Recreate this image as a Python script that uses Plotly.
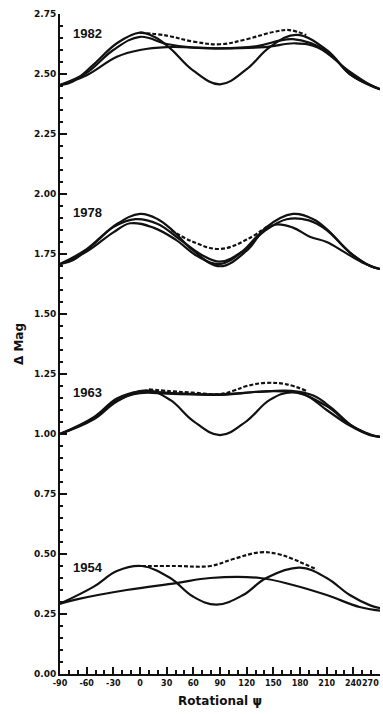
import plotly.graph_objects as go

# ---------------- data ----------------
years = ["1982", "1978", "1963", "1954"]
year_label_y = [2.67, 1.922, 1.172, 0.443]
year_label_x = -78

# 1982
x82_a = [-90, -75, -52, -26, 0, 17, 34, 60, 90, 120, 146, 176, 210, 236, 259, 270]
y82_a = [2.454, 2.47, 2.54, 2.628, 2.672, 2.653, 2.607, 2.514, 2.457, 2.52, 2.612, 2.663, 2.60, 2.50, 2.454, 2.437]
x82_b = [-90, -60, -26, 0, 30, 90, 140, 175, 200, 236, 259, 270]
y82_b = [2.454, 2.495, 2.572, 2.60, 2.612, 2.607, 2.612, 2.628, 2.61, 2.51, 2.455, 2.437]
x82_c = [-90, -60, -30, 0, 30, 60, 90, 130, 172, 210, 236, 259, 270]
y82_c = [2.454, 2.505, 2.60, 2.655, 2.625, 2.61, 2.607, 2.615, 2.645, 2.595, 2.50, 2.452, 2.437]
x82_d = [0, 30, 60, 90, 120, 150, 168, 187]
y82_d = [2.672, 2.66, 2.635, 2.624, 2.645, 2.675, 2.683, 2.662]

# 1978
x78_a = [-90, -75, -52, -26, 0, 20, 37, 60, 90, 120, 142, 172, 195, 210, 236, 259, 270]
y78_a = [1.708, 1.725, 1.792, 1.875, 1.917, 1.895, 1.847, 1.764, 1.699, 1.764, 1.861, 1.917, 1.895, 1.854, 1.757, 1.70, 1.6875]
x78_b = [-90, -60, -30, -5, 20, 45, 70, 90, 115, 140, 165, 190, 210, 236, 259, 270]
y78_b = [1.708, 1.77, 1.862, 1.895, 1.875, 1.81, 1.745, 1.718, 1.76, 1.845, 1.895, 1.89, 1.85, 1.756, 1.70, 1.6875]
x78_c = [-90, -60, -30, -11, 15, 40, 65, 90, 115, 135, 152, 172, 191, 210, 229, 250, 270]
y78_c = [1.708, 1.76, 1.84, 1.878, 1.86, 1.81, 1.74, 1.708, 1.76, 1.835, 1.872, 1.86, 1.822, 1.80, 1.76, 1.715, 1.6875]
x78_d = [35, 60, 90, 120, 145]
y78_d = [1.85, 1.80, 1.771, 1.81, 1.87]

# 1963
x63_a = [-90, -52, -26, 7, 34, 60, 90, 120, 146, 172, 210, 236, 259, 270]
y63_a = [1.00, 1.061, 1.135, 1.182, 1.142, 1.054, 0.995, 1.054, 1.142, 1.173, 1.116, 1.04, 0.997, 0.988]
x63_b = [-90, -52, -26, 0, 30, 60, 90, 110, 130, 160, 185, 210, 236, 259, 270]
y63_b = [1.00, 1.065, 1.14, 1.17, 1.168, 1.165, 1.163, 1.168, 1.176, 1.178, 1.165, 1.10, 1.035, 0.995, 0.988]
x63_c = [-90, -52, -26, 0, 20, 50, 90, 130, 170, 195, 215, 240, 259, 270]
y63_c = [1.00, 1.07, 1.148, 1.178, 1.175, 1.168, 1.165, 1.175, 1.18, 1.16, 1.11, 1.03, 0.998, 0.988]
x63_d = [10, 35, 60, 90, 105, 120, 142, 165, 187]
y63_d = [1.186, 1.178, 1.172, 1.166, 1.18, 1.20, 1.213, 1.207, 1.18]

# 1954
x54_a = [-90, -52, -26, 2, 34, 60, 86, 116, 142, 180, 210, 236, 259, 270]
y54_a = [0.293, 0.364, 0.429, 0.45, 0.40, 0.322, 0.289, 0.329, 0.40, 0.443, 0.40, 0.329, 0.286, 0.274]
x54_b = [-90, -70, -15, 41, 79, 135, 172, 210, 247, 270]
y54_b = [0.293, 0.312, 0.35, 0.379, 0.40, 0.40, 0.371, 0.329, 0.279, 0.264]
x54_d = [2, 40, 79, 105, 135, 155, 172, 187, 199]
y54_d = [0.45, 0.45, 0.45, 0.479, 0.507, 0.50, 0.479, 0.455, 0.436]

x_ticks = [-90, -60, -30, 0, 30, 60, 90, 120, 150, 180, 210, 240, 270]
y_ticks = [0.0, 0.25, 0.5, 0.75, 1.0, 1.25, 1.5, 1.75, 2.0, 2.25, 2.5, 2.75]

solid = [(x82_a, y82_a), (x82_b, y82_b), (x82_c, y82_c),
         (x78_a, y78_a), (x78_b, y78_b), (x78_c, y78_c),
         (x63_a, y63_a), (x63_b, y63_b), (x63_c, y63_c),
         (x54_a, y54_a), (x54_b, y54_b)]
dashed = [(x82_d, y82_d), (x78_d, y78_d), (x63_d, y63_d), (x54_d, y54_d)]

INK = "#111"

# ---------------- figure ----------------
fig = go.Figure()
for xs, ys in solid:
    fig.add_trace(go.Scatter(x=xs, y=ys, mode="lines",
                             line=dict(color=INK, width=2.2, shape="spline", smoothing=1.1),
                             hoverinfo="skip", showlegend=False))
for xs, ys in dashed:
    fig.add_trace(go.Scatter(x=xs, y=ys, mode="lines",
                             line=dict(color=INK, width=2.2, shape="spline", smoothing=1.1, dash="4px,2px"),
                             hoverinfo="skip", showlegend=False))

for name, yy in zip(years, year_label_y):
    fig.add_annotation(x=year_label_x, y=yy, text=name, showarrow=False,
                       xanchor="left", yanchor="middle",
                       font=dict(family="Liberation Sans", size=13, color=INK, weight="bold"))

ytickfont = dict(family="DejaVu Sans", size=9, color=INK, weight="bold")
xtickfont = dict(family="DejaVu Sans", size=8, color=INK, weight="bold")

# last x label (270) sits at the page edge; keep it fully inside the page
fig.add_annotation(x=1, y=0, xref="paper", yref="paper", xshift=1, yshift=-9,
                   text=str(x_ticks[-1]), showarrow=False, xanchor="right", yanchor="middle",
                   font=xtickfont)

fig.update_xaxes(range=[-90, 270], tickvals=x_ticks[:-1], ticktext=[str(v) for v in x_ticks[:-1]],
                 showline=True, linecolor=INK, linewidth=2, mirror=False,
                 ticks="inside", ticklen=7, tickwidth=1.5, tickcolor=INK,
                 minor=dict(dtick=10, tick0=-90, ticks="inside", ticklen=4, tickwidth=1.5, tickcolor=INK),
                 showgrid=False, zeroline=False, tickfont=xtickfont,
                 title=dict(text="Rotational ψ", standoff=10,
                            font=dict(family="DejaVu Sans", size=12, color=INK, weight="bold")))
fig.update_yaxes(range=[0, 2.75], tickvals=y_ticks, ticktext=[f"{v:.2f}" for v in y_ticks],
                 showline=True, linecolor=INK, linewidth=2, mirror=False,
                 ticks="inside", ticklen=7, tickwidth=1.5, tickcolor=INK,
                 minor=dict(dtick=0.05, tick0=0, ticks="inside", ticklen=3, tickwidth=1.5, tickcolor=INK),
                 showgrid=False, zeroline=False, tickfont=ytickfont,
                 title=dict(text="Δ Mag", standoff=8,
                            font=dict(family="DejaVu Sans", size=12, color=INK, weight="bold")))

fig.update_layout(width=383, height=714, autosize=False,
                  margin=dict(l=60, r=3, t=14, b=40, autoexpand=False),
                  paper_bgcolor="white", plot_bgcolor="white")

fig.write_html("out.html", config={"displayModeBar": False})
